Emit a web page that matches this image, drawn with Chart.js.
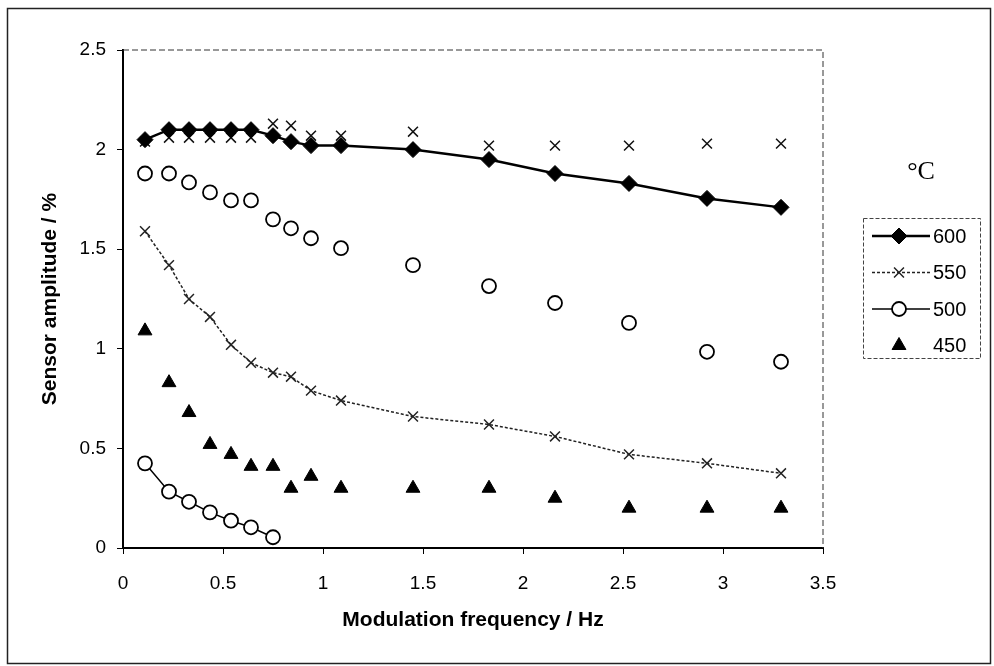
<!DOCTYPE html>
<html>
<head>
<meta charset="utf-8">
<script src="https://cdn.jsdelivr.net/npm/chart.js@4/dist/chart.umd.min.js"></script>
<style>
    body { margin: 0; background: #fff; }
    #wrap { width: 994px; height: 666px; }
</style>
</head>
<body>
<div id="wrap"><canvas id="sensorChart" width="994" height="666"></canvas></div>
<script>
// modulation frequencies (Hz)
const freq = [0.11, 0.23, 0.33, 0.435, 0.54, 0.64, 0.75, 0.84, 0.94, 1.09, 1.45, 1.83, 2.16, 2.53, 2.92, 3.29];

// sensor amplitude (%) per temperature
const amp600 = [2.05, 2.10, 2.10, 2.10, 2.10, 2.10, 2.07, 2.04, 2.02, 2.02, 2.00, 1.95, 1.88, 1.83, 1.755, 1.71];
const amp550High = [2.04, 2.06, 2.06, 2.06, 2.06, 2.06, 2.13, 2.12, 2.07, 2.07, 2.09, 2.02, 2.02, 2.02, 2.03, 2.03];
const amp550Low = [1.59, 1.42, 1.25, 1.16, 1.02, 0.93, 0.88, 0.86, 0.79, 0.74, 0.66, 0.62, 0.56, 0.47, 0.425, 0.375];
const amp500High = [1.88, 1.88, 1.835, 1.785, 1.745, 1.745, 1.65, 1.605, 1.555, 1.505, 1.42, 1.315, 1.23, 1.13, 0.985, 0.935];
const amp500Low = [0.425, 0.283, 0.232, 0.179, 0.137, 0.104, 0.054];
const amp450 = [1.09, 0.83, 0.68, 0.52, 0.47, 0.41, 0.41, 0.30, 0.36, 0.30, 0.30, 0.30, 0.25, 0.20, 0.20, 0.20];

const xTicks = [0, 0.5, 1, 1.5, 2, 2.5, 3, 3.5];
const yTicks = [0, 0.5, 1, 1.5, 2, 2.5];
const legendLabels = ['600', '550', '500', '450'];
const legendUnit = '\u00B0C';

function toPoints(values) {
    return values.map((v, i) => ({ x: freq[i], y: v }));
}

const datasets = [
    {
        label: '600', data: toPoints(amp600), showLine: true,
        borderColor: '#000', borderWidth: 2.5, backgroundColor: '#000',
        pointStyle: 'rectRot', pointRadius: 8, pointBorderWidth: 1
    },
    {
        label: '550', data: toPoints(amp550High), showLine: false,
        borderColor: '#111', backgroundColor: '#111',
        pointStyle: 'crossRot', pointRadius: 7, pointBorderWidth: 1.5
    },
    {
        label: '550', data: toPoints(amp550Low), showLine: true,
        borderColor: '#222', borderWidth: 1.5, borderDash: [3, 2], backgroundColor: '#222',
        pointStyle: 'crossRot', pointRadius: 7, pointBorderWidth: 1.5
    },
    {
        label: '500', data: toPoints(amp500High), showLine: false,
        borderColor: '#000', backgroundColor: '#fff',
        pointStyle: 'circle', pointRadius: 7, pointBorderWidth: 1.8
    },
    {
        label: '500', data: toPoints(amp500Low), showLine: true,
        borderColor: '#000', borderWidth: 1.5, backgroundColor: '#fff',
        pointStyle: 'circle', pointRadius: 7, pointBorderWidth: 1.8
    },
    {
        label: '450', data: toPoints(amp450), showLine: false,
        borderColor: '#000', backgroundColor: '#000',
        pointStyle: 'triangle', pointRadius: 8, pointBorderWidth: 1
    }
];

// frame around the plot, outer border and the boxed legend
const framePlugin = {
    id: 'frame',
    afterDraw(chart) {
        const ctx = chart.ctx;
        const a = chart.chartArea;
        ctx.save();
        ctx.strokeStyle = '#333';
        ctx.lineWidth = 1;
        ctx.setLineDash([6, 3]);
        ctx.beginPath();
        ctx.moveTo(a.left, a.top);
        ctx.lineTo(a.right, a.top);
        ctx.lineTo(a.right, a.bottom);
        ctx.stroke();

        // outer chart border
        ctx.setLineDash([]);
        ctx.strokeStyle = '#222';
        ctx.lineWidth = 1.5;
        ctx.strokeRect(7.5, 8.5, 983, 655);

        // legend
        const box = { x: 863, y: 218, w: 117, h: 140 };
        ctx.strokeStyle = '#444';
        ctx.lineWidth = 1;
        ctx.setLineDash([4, 2]);
        ctx.strokeRect(box.x + 0.5, box.y + 0.5, box.w, box.h);
        ctx.setLineDash([]);

        ctx.fillStyle = '#000';
        ctx.font = '26px "Liberation Serif", "DejaVu Serif", serif';
        ctx.textAlign = 'center';
        ctx.textBaseline = 'middle';
        ctx.fillText(legendUnit, 921, 172);

        const rows = [
            { ds: datasets[0], line: true },
            { ds: datasets[2], line: true },
            { ds: datasets[4], line: true },
            { ds: datasets[5], line: false }
        ];
        ctx.font = '20px "Liberation Sans", Arial, sans-serif';
        ctx.textAlign = 'left';
        rows.forEach((row, i) => {
            const y = 236 + i * 36.5;
            const ds = row.ds;
            if (row.line) {
                ctx.save();
                ctx.strokeStyle = ds.borderColor;
                ctx.lineWidth = ds.borderWidth;
                ctx.setLineDash(ds.borderDash || []);
                ctx.beginPath();
                ctx.moveTo(872, y);
                ctx.lineTo(930, y);
                ctx.stroke();
                ctx.restore();
            }
            ctx.save();
            ctx.fillStyle = ds.backgroundColor;
            ctx.strokeStyle = ds.borderColor;
            ctx.lineWidth = ds.pointBorderWidth;
            Chart.helpers.drawPoint(ctx, { pointStyle: ds.pointStyle, radius: ds.pointRadius, rotation: 0, borderWidth: ds.pointBorderWidth }, 899, y);
            ctx.restore();
            ctx.fillStyle = '#000';
            ctx.fillText(legendLabels[i], 933, y + 1);
        });
        ctx.restore();
    }
};

new Chart(document.getElementById('sensorChart'), {
    type: 'scatter',
    data: { datasets: datasets },
    options: {
        responsive: false,
        animation: false,
        layout: { padding: { top: 50, right: 171, left: 0, bottom: 0 } },
        plugins: {
            legend: { display: false },
            tooltip: { enabled: false }
        },
        scales: {
            x: {
                type: 'linear',
                min: 0,
                max: 3.5,
                afterFit: (scale) => { scale.height = 118; },
                afterBuildTicks: (scale) => { scale.ticks = xTicks.map(v => ({ value: v })); },
                grid: { drawOnChartArea: false, drawTicks: true, tickLength: 6, color: '#000', lineWidth: 1 },
                border: { color: '#000', width: 2 },
                ticks: {
                    color: '#000',
                    padding: 18,
                    maxRotation: 0,
                    font: { family: '"Liberation Sans", Arial, sans-serif', size: 19 },
                    callback: (v) => String(v)
                },
                title: {
                    display: true,
                    text: 'Modulation frequency / Hz',
                    color: '#000',
                    padding: { top: 0, bottom: 33 },
                    font: { family: '"Liberation Sans", Arial, sans-serif', size: 21, weight: 'bold' }
                }
            },
            y: {
                type: 'linear',
                min: 0,
                max: 2.5,
                afterFit: (scale) => { scale.width = 123; },
                afterBuildTicks: (scale) => { scale.ticks = yTicks.map(v => ({ value: v })); },
                grid: { drawOnChartArea: false, drawTicks: true, tickLength: 6, color: '#000', lineWidth: 1 },
                border: { color: '#000', width: 2 },
                ticks: {
                    color: '#000',
                    padding: 11,
                    font: { family: '"Liberation Sans", Arial, sans-serif', size: 19 },
                    callback: (v) => String(v)
                },
                title: {
                    display: true,
                    text: 'Sensor amplitude / %',
                    color: '#000',
                    padding: { top: 38, bottom: 0 },
                    font: { family: '"Liberation Sans", Arial, sans-serif', size: 21, weight: 'bold' }
                }
            }
        }
    },
    plugins: [framePlugin]
});
</script>
</body>
</html>
